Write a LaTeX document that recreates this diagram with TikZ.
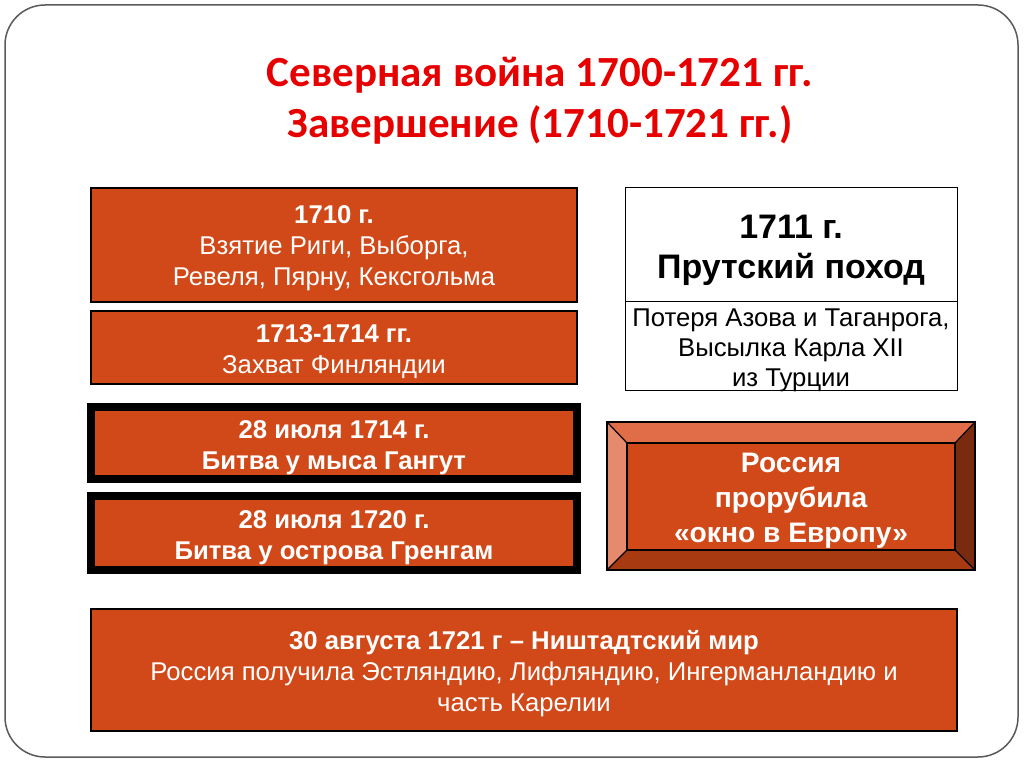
\documentclass[tikz,border=0pt]{standalone}
\usepackage{fontspec}
\setmainfont{Liberation Sans}
\newfontfamily\titlefont{Carlito}
\definecolor{boxor}{RGB}{209,73,24}
\definecolor{bevtop}{RGB}{224,108,72}
\definecolor{bevleft}{RGB}{230,138,110}
\definecolor{bevright}{RGB}{122,42,14}
\definecolor{bevbot}{RGB}{168,58,18}
\definecolor{titlered}{RGB}{230,0,0}
\definecolor{framegray}{RGB}{90,90,90}
\tikzset{
  orbox/.style={draw=black, line width=2.5pt, fill=boxor, inner sep=0pt},
  thickbox/.style={draw=black, line width=8pt, fill=boxor, inner sep=0pt},
  whitebox/.style={draw=black, line width=1pt, fill=white, inner sep=0pt},
  plaintext/.style={align=center, inner sep=0pt},
  ortext/.style={plaintext, text=white, font=\fontsize{25.7}{31}\selectfont},
  orbold/.style={ortext, font=\fontsize{25.7}{31}\selectfont\bfseries},
}
\begin{document}
\begin{tikzpicture}[x=1pt,y=-1pt]
\useasboundingbox (0,0) rectangle (1024,767);
\fill[white] (0,0) rectangle (1024,767);
\draw[framegray, line width=1.5pt, rounded corners=40pt] (5,5) rectangle (1018,757);

% title
\node[plaintext, text=titlered, font=\titlefont\fontsize{43}{50.5}\selectfont\bfseries] (title) at (540,100.5)
  {Северная война 1700-1721 гг.\\Завершение (1710-1721 гг.)};

% left boxes
\node[orbox, minimum width=486pt, minimum height=114pt] (b1) at (334,245) {};
\node[ortext, yshift=-3.5pt] (t1) at (b1.center)
  {\textbf{1710 г.}\\Взятие Риги, Выборга,\\Ревеля, Пярну, Кексгольма};
\node[orbox, minimum width=486pt, minimum height=73pt] (b2) at (334,347.5) {};
\node[ortext, yshift=-4pt] (t2) at (b2.center)
  {\textbf{1713-1714 гг.}\\Захват Финляндии};
\node[thickbox, minimum width=486pt, minimum height=72pt] (b3) at (334,443) {};
\node[orbold, yshift=-5pt] (t3) at (b3.center)
  {28 июля 1714 г.\\Битва у мыса Гангут};
\node[thickbox, minimum width=486pt, minimum height=74pt] (b4) at (334,533) {};
\node[orbold, yshift=-4.5pt] (t4) at (b4.center)
  {28 июля 1720 г.\\Битва у острова Гренгам};

% right top box
\node[whitebox, minimum width=332pt, minimum height=113pt] (rtop) at (791,244.5) {};
\node[plaintext, font=\fontsize{34}{39.5}\selectfont\bfseries, yshift=-6pt] (rtopt) at (rtop.center)
  {1711 г.\\Прутский поход};
\node[whitebox, minimum width=332pt, minimum height=89pt] (rbot) at (791,345.5) {};
\node[plaintext, font=\fontsize{25.7}{30}\selectfont, yshift=-5pt] (rbott) at (rbot.center)
  {Потеря Азова и Таганрога,\\Высылка Карла XII\\из Турции};

% bevel box
\coordinate (o1) at (607,422);
\coordinate (o2) at (975,422);
\coordinate (o3) at (975,570);
\coordinate (o4) at (607,570);
\coordinate (i1) at (627,443);
\coordinate (i2) at (955,443);
\coordinate (i3) at (955,550);
\coordinate (i4) at (627,550);
\fill[bevtop] (o1) -- (o2) -- (i2) -- (i1) -- cycle;
\fill[bevleft] (o1) -- (i1) -- (i4) -- (o4) -- cycle;
\fill[bevright] (o2) -- (o3) -- (i3) -- (i2) -- cycle;
\fill[bevbot] (o4) -- (i4) -- (i3) -- (o3) -- cycle;
\fill[boxor] (i1) rectangle (i3);
\draw[black, line width=2pt] (o1) rectangle (o3);
\draw[black, line width=1.2pt] (i1) rectangle (i3);
\draw[black, line width=1.2pt] (o1) -- (i1) (o2) -- (i2) (o3) -- (i3) (o4) -- (i4);
\node[plaintext, text=white, font=\fontsize{28.2}{35}\selectfont\bfseries] (win) at (791,500.5)
  {Россия\\прорубила\\«окно в Европу»};

% bottom box
\node[orbox, minimum width=866pt, minimum height=122pt] (b5) at (524,670) {};
\node[ortext, yshift=-4pt] (t5) at (b5.center)
  {\textbf{30 августа 1721 г – Ништадтский мир}\\Россия получила Эстляндию, Лифляндию, Ингерманландию и\\часть Карелии};
\end{tikzpicture}
\end{document}
